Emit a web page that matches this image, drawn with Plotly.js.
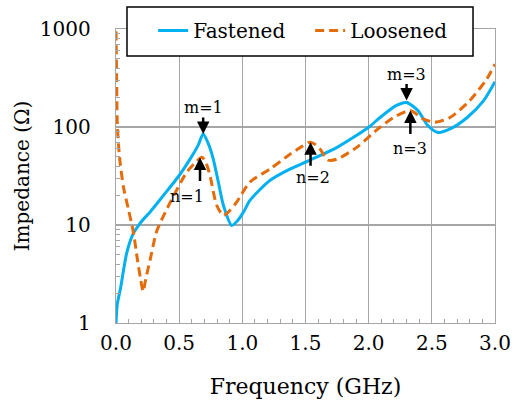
<!DOCTYPE html>
<html>
<head>
<meta charset="utf-8">
<script src="https://cdn.plot.ly/plotly-3.0.1.min.js"></script>
<style>
html,body{margin:0;padding:0;background:#fff;}
#chart{width:516px;height:405px;}
</style>
</head>
<body>
<div id="chart"></div>
<script>
// Fastened (blue, solid)
const freqFastened = [0, 0.01, 0.037, 0.085, 0.137, 0.164, 0.2, 0.27, 0.375, 0.5, 0.586, 0.65, 0.69, 0.73, 0.77, 0.81, 0.85, 0.916, 0.96, 1.01, 1.06, 1.14, 1.22, 1.38, 1.536, 1.75, 2.0, 2.09, 2.22, 2.3, 2.39, 2.47, 2.55, 2.645, 2.78, 2.91, 3.0];
const impFastened  = [1.0, 1.55, 2.3, 5.2, 8.2, 9.3, 10.8, 13.6, 20, 32, 47, 65, 85, 68, 47, 27.4, 15.9, 9.9, 11, 13.6, 17.8, 23, 28.6, 37.4, 46, 62, 99.5, 125, 166, 178, 147, 103, 88, 95.5, 125, 186, 290];

// Loosened (orange, dashed)
const freqLoosened = [0, 0.004, 0.01, 0.02, 0.032, 0.06, 0.097, 0.137, 0.17, 0.195, 0.215, 0.235, 0.27, 0.32, 0.36, 0.43, 0.56, 0.64, 0.68, 0.71, 0.744, 0.797, 0.85, 0.9, 0.955, 1.06, 1.22, 1.38, 1.47, 1.536, 1.58, 1.615, 1.68, 1.75, 1.905, 2.09, 2.22, 2.33, 2.43, 2.525, 2.645, 2.8, 2.935, 3.0];
const impLoosened  = [950, 400, 110, 65, 44, 24, 14.7, 8.5, 4.4, 2.8, 2.1, 2.8, 4.4, 8.5, 11.2, 17.1, 34.6, 45, 49, 44, 32, 15.9, 12.5, 14, 17.1, 27.4, 37.4, 53, 63, 70, 66, 59.5, 46, 47, 62, 99.5, 130, 147, 121, 112, 125, 186, 309, 438];

// Mode labels
const labelText = ["m=1", "n=1", "n=2", "m=3", "n=3"];
const labelFreq = [0.69, 0.56, 1.56, 2.30, 2.33];
const labelImp  = [157, 19.6, 30.8, 347, 59.8];
// Arrow tips (pointing at resonances)
const arrowFreq = [0.69, 0.665, 1.54, 2.30, 2.33];
const arrowImp  = [85, 48.9, 70, 186, 147];
const arrowDir  = [-1, 1, 1, -1, 1]; // -1: arrow points down, 1: arrow points up

const serif = "DejaVu Serif";
const gridCol = "#a6a6a6";

const traces = [
  {x: freqFastened, y: impFastened, name: "Fastened", type: "scatter", mode: "lines",
   line: {color: "#00B0F0", width: 3, shape: "spline", smoothing: 0.7}},
  {x: freqLoosened, y: impLoosened, name: "Loosened", type: "scatter", mode: "lines",
   line: {color: "#E46C0A", width: 3, dash: "9px,5px", shape: "spline", smoothing: 0.7}}
];

const annotations = [];
for (let i = 0; i < labelText.length; i++) {
  annotations.push({x: labelFreq[i], y: Math.log10(labelImp[i]), xref: "x", yref: "y",
    text: labelText[i], showarrow: false, font: {family: serif, size: 16, color: "#000"}});
  annotations.push({x: arrowFreq[i], y: Math.log10(arrowImp[i]), xref: "x", yref: "y",
    text: "", showarrow: true, ax: 0, ay: arrowDir[i] > 0 ? 25 : -18,
    arrowhead: 2, arrowsize: 1, arrowwidth: 2.5, arrowcolor: "#000", standoff: 0});
}

const layout = {
  width: 516, height: 405,
  margin: {l: 116, r: 21, t: 28, b: 82},
  paper_bgcolor: "#fff", plot_bgcolor: "#fff",
  font: {family: serif, color: "#000"},
  showlegend: true,
  legend: {orientation: "h", x: 0.098, xanchor: "left", y: 0.9915, yanchor: "middle",
    bgcolor: "rgba(0,0,0,0)", borderwidth: 0, entrywidth: 112, entrywidthmode: "pixels",
    font: {family: serif, size: 20, color: "#000"}},
  xaxis: {range: [0, 3], dtick: 0.5, tickformat: ".1f",
    showgrid: true, gridcolor: gridCol, gridwidth: 1.3,
    showline: true, linecolor: gridCol, linewidth: 1.3, mirror: true,
    ticks: "", zeroline: false,
    minor: {dtick: 0.1, ticks: "inside", ticklen: 4, tickcolor: gridCol, tickwidth: 1, showgrid: false},
    tickfont: {family: serif, size: 20, color: "#000"},
    ticklabelstandoff: 2,
    title: {text: "Frequency (GHz)", font: {family: serif, size: 22, color: "#000"}, standoff: 24}},
  yaxis: {type: "log", range: [0, 3], dtick: 1,
    showgrid: true, gridcolor: gridCol, gridwidth: 1.3,
    showline: true, linecolor: gridCol, linewidth: 1.3, mirror: true,
    ticks: "", zeroline: false,
    minor: {dtick: "D1", ticks: "inside", ticklen: 4, tickcolor: gridCol, tickwidth: 1, showgrid: false},
    tickfont: {family: serif, size: 20, color: "#000"},
    ticklabelstandoff: 20,
    title: {text: "Impedance (Ω)", font: {family: serif, size: 20, color: "#000"}, standoff: 4}},
  shapes: [{type: "rect", xref: "paper", yref: "paper", x0: 0.029, x1: 0.942, y0: 0.9085, y1: 1.0746,
    fillcolor: "#fff", line: {color: "#000", width: 1.5}, layer: "above"}],
  annotations: annotations
};

Plotly.newPlot("chart", traces, layout, {displayModeBar: false, staticPlot: true});
</script>
</body>
</html>
